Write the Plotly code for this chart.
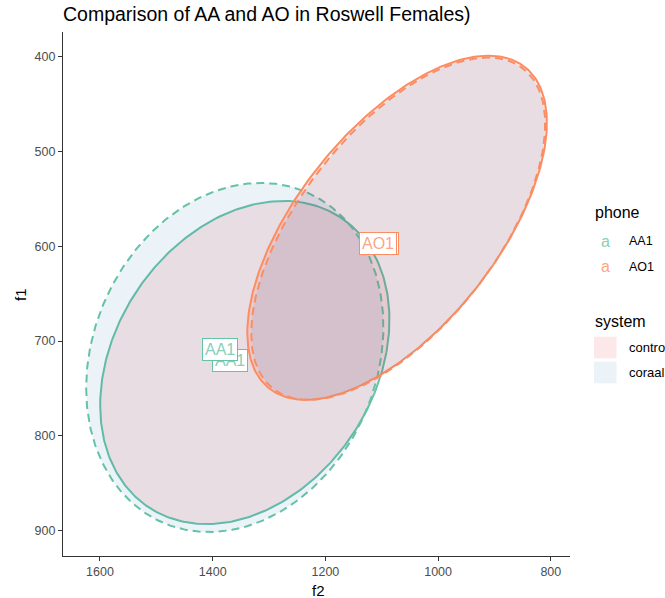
import numpy as np
import plotly.graph_objects as go

# ---- data ----
phones = ["AA1", "AA1", "AO1", "AO1"]
systems = ["control", "coraal", "control", "coraal"]
center_f2 = [1343.0, 1360.8, 1072.8, 1070.8]
center_f1 = [722.6, 717.3, 580.5, 581.5]
half_f2 = [256.6, 263.7, 265.8, 260.8]
half_f1 = [170.4, 184.1, 181.5, 180.5]
corr = [0.265, 0.175, 0.61, 0.61]

label_phone = ["AA1", "AA1", "AO1", "AO1"]
label_f2 = [1368.8, 1387.4, 1104.0, 1106.0]
label_f1 = [720.0, 709.4, 597.0, 597.6]

x_ticks = [1600, 1400, 1200, 1000, 800]
y_ticks = [400, 500, 600, 700, 800, 900]

# ---- styles ----
phone_color = {"AA1": "#66C2A5", "AO1": "#FC8D62"}
phone_color_soft = {"AA1": "rgba(102,194,165,0.8)", "AO1": "rgba(252,141,98,0.8)"}
system_fill = {"control": "rgba(228,26,28,0.10)", "coraal": "rgba(55,126,184,0.10)"}
system_dash = {"control": "solid", "coraal": "8px,5px"}
FONT = "Liberation Sans, Arial, sans-serif"

fig = go.Figure()
t = np.linspace(0, 2 * np.pi, 361)
for ph, sy, cx, cy, hx, hy, r in zip(phones, systems, center_f2, center_f1, half_f2, half_f1, corr):
    xs = cx + hx * np.cos(t)
    ys = cy + hy * (r * np.cos(t) + np.sqrt(1 - r * r) * np.sin(t))
    fig.add_trace(go.Scatter(
        x=xs, y=ys, mode="lines", fill="toself",
        fillcolor=system_fill[sy],
        line=dict(color=phone_color[ph], width=2, dash=system_dash[sy]),
        hoverinfo="skip", showlegend=False,
    ))

# plot area in pixels
L, R, T, B = 63, 570, 32, 556
W, H = 665, 598


def px(xp):
    return (xp - L) / (R - L)


def py(yp):
    return (B - yp) / (B - T)


annotations = []
for ph, lx, ly in zip(label_phone, label_f2, label_f1):
    annotations.append(dict(
        x=lx, y=ly, xref="x", yref="y", text=ph, showarrow=False,
        font=dict(family=FONT, size=16, color=phone_color_soft[ph]),
        bgcolor="white", bordercolor=phone_color[ph], borderwidth=1, borderpad=2,
    ))

# axis titles
annotations.append(dict(x=px(318), y=py(590), xref="paper", yref="paper", text="f2",
                        showarrow=False, xanchor="center", yanchor="middle",
                        font=dict(family=FONT, size=15, color="black")))
annotations.append(dict(x=px(20), y=py(295), xref="paper", yref="paper", text="f1",
                        showarrow=False, xanchor="center", yanchor="middle", textangle=-90,
                        font=dict(family=FONT, size=15, color="black")))

# legend: phone
annotations.append(dict(x=px(593), y=py(212.7), xref="paper", yref="paper", text="phone",
                        showarrow=False, xanchor="left", yanchor="middle",
                        font=dict(family=FONT, size=16, color="black")))
for ph, yy in zip(["AA1", "AO1"], [241.2, 266.7]):
    annotations.append(dict(x=px(605.5), y=py(yy), xref="paper", yref="paper", text="a",
                            showarrow=False, xanchor="center", yanchor="middle",
                            font=dict(family=FONT, size=16, color=phone_color_soft[ph])))
    annotations.append(dict(x=px(626.5), y=py(yy), xref="paper", yref="paper", text=ph,
                            showarrow=False, xanchor="left", yanchor="middle",
                            font=dict(family=FONT, size=12.5, color="black")))

# legend: system
annotations.append(dict(x=px(593), y=py(321.7), xref="paper", yref="paper", text="system",
                        showarrow=False, xanchor="left", yanchor="middle",
                        font=dict(family=FONT, size=16, color="black")))
shapes = []
for sy, (y0, y1) in zip(["control", "coraal"], [(336.7, 358.3), (361.7, 383.3)]):
    shapes.append(dict(type="rect", xref="paper", yref="paper",
                       x0=px(594), x1=px(616.5), y0=py(y1), y1=py(y0),
                       fillcolor=system_fill[sy], line=dict(width=0)))
    annotations.append(dict(x=px(626.5), y=py((y0 + y1) / 2), xref="paper", yref="paper", text=sy,
                            showarrow=False, xanchor="left", yanchor="middle",
                            font=dict(family=FONT, size=13, color="black")))

fig.update_layout(
    width=W, height=H,
    margin=dict(l=L, r=W - R, t=T, b=H - B, pad=0, autoexpand=False),
    paper_bgcolor="white", plot_bgcolor="white",
    showlegend=False,
    font=dict(family=FONT),
    title=dict(text="Comparison of AA and AO in Roswell Females)",
               x=63 / W, xref="container", xanchor="left",
               y=1 - 14 / H, yref="container", yanchor="middle",
               font=dict(family=FONT, size=19.5, color="black")),
    xaxis=dict(range=[1665.6, 766.0], tickvals=x_ticks, ticktext=[str(v) for v in x_ticks],
               automargin=False,
               showgrid=False, zeroline=False, showline=True, linecolor="#333333", linewidth=1.1,
               ticks="outside", ticklen=4, tickwidth=1.1, tickcolor="#333333",
               tickfont=dict(family=FONT, size=12.5, color="#4D4D4D")),
    yaxis=dict(range=[926.7, 374.0], tickvals=y_ticks, ticktext=[str(v) for v in y_ticks],
               automargin=False,
               showgrid=False, zeroline=False, showline=True, linecolor="#333333", linewidth=1.1,
               ticks="outside", ticklen=4, tickwidth=1.1, tickcolor="#333333",
               tickfont=dict(family=FONT, size=12.5, color="#4D4D4D")),
    annotations=annotations,
    shapes=shapes,
)

fig.write_html("out.html")
